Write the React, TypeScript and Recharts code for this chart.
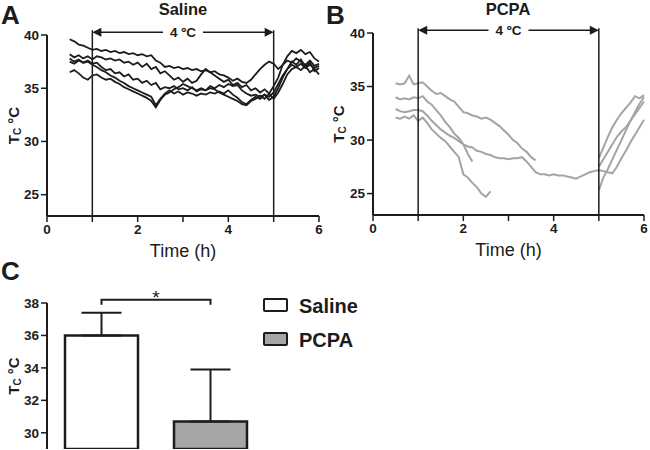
import React from 'react';
import { LineChart, Line, XAxis, YAxis, ReferenceLine, BarChart, Bar, ErrorBar, Cell } from 'recharts';

const FONT = '"Liberation Sans", Arial, Helvetica, sans-serif';
const INK = '#1c1c1c';
const GREY = '#a4a4a4';

// time axis (h), sampled every 0.1 h
const times = [
  0.5, 0.6, 0.7, 0.8, 0.9, 1.0, 1.1, 1.2, 1.3, 1.4,
  1.5, 1.6, 1.7, 1.8, 1.9, 2.0, 2.1, 2.2, 2.3, 2.4,
  2.5, 2.6, 2.7, 2.8, 2.9, 3.0, 3.1, 3.2, 3.3, 3.4,
  3.5, 3.6, 3.7, 3.8, 3.9, 4.0, 4.1, 4.2, 4.3, 4.4,
  4.5, 4.6, 4.7, 4.8, 4.9, 5.0, 5.1, 5.2, 5.3, 5.4,
  5.5, 5.6, 5.7, 5.8, 5.9, 6.0,
];

// Panel A - saline animals, core temperature
const saline1 = [
  39.6, 39.4, 39.1, 39.0, 38.8, 38.6, 38.7, 38.5, 38.6, 38.4,
  38.5, 38.3, 38.4, 38.2, 38.3, 38.1, 38.2, 38.0, 38.1, 37.6,
  37.4, 37.0, 37.1, 36.9, 37.0, 36.8, 36.9, 36.7, 36.8, 36.6,
  36.7, 36.5, 36.6, 36.3, 36.2, 36.0, 35.7, 35.9, 35.6, 35.5,
  35.8, 36.3, 36.8, 37.2, 37.5, 37.3, 36.8, 37.2, 37.6, 37.4,
  37.8, 37.5, 37.2, 37.6, 37.1, 37.3,
];
const saline2 = [
  38.2, 37.9, 38.1, 37.8, 38.0, 37.7, 38.0, 37.9, 37.7, 37.8,
  37.6, 37.7, 37.4, 37.5, 37.2, 37.4, 37.0, 37.3, 36.8, 37.0,
  36.4, 36.6, 36.2, 35.8, 36.0, 35.6, 35.9, 35.5, 35.7, 36.3,
  36.8, 36.5, 36.2, 35.9, 35.6, 35.8, 35.3, 35.5, 35.1, 35.3,
  34.8, 35.0, 34.6, 34.9, 34.5, 35.2, 36.0, 37.2, 38.0, 38.5,
  38.3, 38.6, 38.2, 38.4, 37.8, 37.5,
];
const saline3 = [
  37.8, 37.5, 37.7, 37.4, 37.6, 37.3, 37.4, 37.0, 36.7, 36.8,
  36.4, 36.5, 36.1, 36.3, 35.8, 35.9, 35.5, 35.7, 35.3, 35.5,
  34.9, 35.1, 35.0, 35.2, 34.9, 35.0, 34.8, 35.1, 34.7, 34.9,
  34.8, 35.2, 35.0, 35.3, 35.1, 35.4, 35.2, 35.3, 34.8, 34.5,
  34.3, 34.4, 34.2, 34.4, 34.2, 34.6, 35.4, 36.2, 36.8, 37.2,
  37.0, 37.3, 36.9, 37.2, 36.9, 37.1,
];
const saline4 = [
  37.5, 37.3, 37.6, 37.4, 37.5, 37.2, 37.0, 36.7, 36.5, 36.2,
  36.0, 35.7, 35.5, 35.2, 35.0, 34.8, 34.6, 34.4, 34.2, 33.4,
  34.0, 34.5, 34.8, 34.5, 34.7, 34.4, 34.6, 34.5, 34.3, 34.5,
  34.4, 34.6, 34.5, 34.7, 34.5, 34.8, 34.4, 34.1, 33.7, 33.5,
  33.9, 34.2, 34.0, 34.4, 33.9, 34.2, 35.0, 36.0, 36.8, 37.5,
  37.2, 37.7, 37.0, 37.4, 36.6, 36.9,
];
const saline5 = [
  36.5, 36.7, 36.4, 36.0, 35.8, 36.2, 36.3, 36.0, 35.8, 35.9,
  35.6, 35.4, 35.1, 34.9, 34.7, 34.5, 34.3, 34.1, 33.8, 33.2,
  33.9, 34.4, 34.6, 34.9, 35.1, 35.4, 35.2, 35.0, 34.8, 35.0,
  34.8, 35.0, 34.9, 34.6, 34.4, 34.2, 34.0, 33.8, 33.5, 33.4,
  33.8, 34.0, 34.3, 34.0, 34.5, 34.0, 34.6, 35.4, 36.3, 36.8,
  37.0, 36.7, 37.1, 36.5, 36.8, 36.3,
];

// Panel B - PCPA animals (null = no recording)
const pcpa1 = [
  35.3, 35.2, 35.3, 36.0, 35.2, 35.3, 35.4, 35.0, 34.6, 34.3,
  34.4, 34.1, 33.8, 33.6, 33.1, 32.6, 32.5, 32.3, 32.2, 32.0,
  32.1, 31.9, 31.6, 31.3, 30.9, 30.5, 30.0, 29.7, 29.2, 28.9,
  28.4, 28.1, null, null, null, null, null, null, null, null,
  null, null, null, null, null, 28.3, 29.3, 30.3, 31.2, 31.9,
  32.5, 33.0, 33.5, 34.1, 33.9, 34.2,
];
const pcpa2 = [
  34.0, 33.8, 33.9, 33.8, 34.0, 33.9, 34.1, 33.6, 33.3, 32.8,
  32.3, 31.7, 31.2, 30.6, 30.2, 29.6, 28.7, 28.0, null, null,
  null, null, null, null, null, null, null, null, null, null,
  null, null, null, null, null, null, null, null, null, null,
  null, null, null, null, null, 27.5, 28.2, 28.9, 29.6, 30.3,
  30.8, 31.2, 31.8, 32.4, 33.0, 33.6,
];
const pcpa3 = [
  32.9, 32.7, 32.6, 32.7, 32.8, 32.8, 32.7, 32.3, 31.8, 31.4,
  31.0, 30.7, 30.4, 30.2, 29.9, 29.6, 29.4, 29.3, 29.0, 28.9,
  28.7, 28.6, 28.4, 28.3, 28.3, 28.2, 28.3, 28.3, 28.4, 28.0,
  27.5, 27.0, 26.8, 26.8, 26.7, 26.8, 26.7, 26.7, 26.6, 26.5,
  26.4, 26.6, 26.8, 27.0, 27.1, 27.2, 27.1, 27.0, 26.9, 27.5,
  28.3, 29.0, 29.8, 30.5, 31.2, 31.9,
];
const pcpa4 = [
  32.1, 32.0, 32.2, 32.0, 32.3, 31.8, 32.1, 31.6, 31.0, 30.6,
  30.2, 29.9, 29.4, 28.9, 28.4, 26.8, 26.5, 26.0, 25.6, 25.0,
  24.7, 25.2, null, null, null, null, null, null, null, null,
  null, null, null, null, null, null, null, null, null, null,
  null, null, null, null, null, 25.3, 26.5, 27.3, 28.2, 29.1,
  30.0, 30.9, 31.8, 32.6, 33.4, 34.0,
];

const coldStart = 1;
const coldEnd = 5;
const xTicks = [0, 1, 2, 3, 4, 5, 6];
const yTicks = [25, 30, 35, 40];

// Panel C
const groups = ['Saline', 'PCPA'];
const means = [36.0, 30.7];
const semUp = [1.4, 3.2];
const barFills = ['#ffffff', '#a6a6a6'];
const barTicks = [30, 32, 34, 36, 38];

const salineRows = times.map((t, i) => ({ t, s1: saline1[i], s2: saline2[i], s3: saline3[i], s4: saline4[i], s5: saline5[i] }));
const pcpaRows = times.map((t, i) => ({ t, p1: pcpa1[i], p2: pcpa2[i], p3: pcpa3[i], p4: pcpa4[i] }));
const barRows = groups.map((g, i) => ({ name: g, mean: means[i], err: [0, semUp[i]] }));

const tickStyle = { fontSize: 13.5, fontWeight: 700, fill: INK, fontFamily: FONT };

const TcLabel = (props: any) => {
  const { viewBox } = props;
  const cx = viewBox.x + 13;
  const cy = viewBox.y + viewBox.height / 2;
  return (
    <text x={cx} y={cy} transform={`rotate(-90 ${cx} ${cy})`} textAnchor="middle" dominantBaseline="central"
      fontFamily={FONT} fontWeight={700} fontSize={15} fill={INK}>
      T<tspan fontSize={10} dy={4}>C</tspan><tspan dy={-4}> °C</tspan>
    </text>
  );
};

const TimeLabel = (props: any) => {
  const { viewBox } = props;
  return (
    <text x={viewBox.x + viewBox.width / 2} y={viewBox.y + 41} textAnchor="middle" fontFamily={FONT} fontSize={18} fill={INK}>
      Time (h)
    </text>
  );
};

const ColdArrow = (props: any) => {
  const { x1, y1, x2 } = props;
  const mid = (x1 + x2) / 2;
  const gap = 20;
  return (
    <g>
      <line x1={x1 + 6} y1={y1} x2={mid - gap} y2={y1} stroke={INK} strokeWidth={1.5} />
      <line x1={mid + gap} y1={y1} x2={x2 - 6} y2={y1} stroke={INK} strokeWidth={1.5} />
      <polygon points={`${x1},${y1} ${x1 + 9},${y1 - 4.5} ${x1 + 9},${y1 + 4.5}`} fill={INK} />
      <polygon points={`${x2},${y1} ${x2 - 9},${y1 - 4.5} ${x2 - 9},${y1 + 4.5}`} fill={INK} />
      <text x={mid} y={y1} dy="0.36em" textAnchor="middle" fontFamily={FONT} fontWeight={700} fontSize={13.5} fill={INK}>4 ºC</text>
    </g>
  );
};

const Bracket = (props: any) => {
  const { x1, y1, x2 } = props;
  return (
    <g>
      <path d={`M${x1},${y1 + 5} L${x1},${y1} L${x2},${y1} L${x2},${y1 + 5}`} fill="none" stroke={INK} strokeWidth={2} />
      <text x={(x1 + x2) / 2} y={y1 + 4} textAnchor="middle" fontFamily={FONT} fontSize={19} fill={INK}>*</text>
    </g>
  );
};

const Panel = ({ rows, keys, color, width, height, margin, yWidth }: any) => (
  <LineChart width={width} height={height} data={rows} margin={margin}>
    <XAxis dataKey="t" type="number" domain={[0, 6]} ticks={xTicks} tickFormatter={(v: number) => (v % 2 === 0 ? String(v) : '')}
      tick={tickStyle} tickSize={6} tickMargin={2} height={20}
      axisLine={{ stroke: INK, strokeWidth: 2 }} tickLine={{ stroke: INK, strokeWidth: 1.5 }} label={<TimeLabel />} />
    <YAxis type="number" domain={[23, 40]} ticks={yTicks} allowDataOverflow tick={tickStyle} tickSize={6} tickMargin={2}
      width={yWidth} axisLine={{ stroke: INK, strokeWidth: 2 }} tickLine={{ stroke: INK, strokeWidth: 1.5 }} label={<TcLabel />} />
    {keys.map((k: string) => (
      <Line key={k} dataKey={k} type="linear" stroke={color} strokeWidth={color === INK ? 1.8 : 2} dot={false}
        isAnimationActive={false} connectNulls={false} />
    ))}
    <ReferenceLine segment={[{ x: coldStart, y: 23 }, { x: coldStart, y: 40.45 }]} stroke={INK} strokeWidth={1.5} ifOverflow="visible" />
    <ReferenceLine segment={[{ x: coldEnd, y: 23 }, { x: coldEnd, y: 40.45 }]} stroke={INK} strokeWidth={1.5} ifOverflow="visible" />
    <ReferenceLine segment={[{ x: coldStart, y: 40.25 }, { x: coldEnd, y: 40.25 }]} ifOverflow="visible" shape={ColdArrow} />
  </LineChart>
);

const textBase: React.CSSProperties = { position: 'absolute', fontFamily: FONT, fontWeight: 700, color: INK, lineHeight: 1.1, whiteSpace: 'nowrap' };

const LegendItem = ({ label, fill, top }: any) => (
  <>
    <div style={{ position: 'absolute', left: 263, top: top + 3, width: 21, height: 10, border: `2.5px solid ${INK}`, borderRadius: 2, background: fill }} />
    <div style={{ ...textBase, left: 299, top, fontSize: 20 }}>{label}</div>
  </>
);

export default function App() {
  return (
    <div style={{ position: 'absolute', left: 0, top: 0, width: 650, height: 450, background: '#fff', overflow: 'hidden' }}>
      <div style={{ position: 'absolute', left: 0, top: 0 }}>
        <Panel rows={salineRows} keys={['s1', 's2', 's3', 's4', 's5']} color={INK} width={330} height={265}
          margin={{ top: 35, right: 11, bottom: 29, left: 0 }} yWidth={47} />
      </div>
      <div style={{ position: 'absolute', left: 325, top: 0 }}>
        <Panel rows={pcpaRows} keys={['p1', 'p2', 'p3', 'p4']} color={GREY} width={325} height={265}
          margin={{ top: 33, right: 6, bottom: 30, left: 0 }} yWidth={48} />
      </div>
      <div style={{ position: 'absolute', left: 0, top: 250 }}>
        <BarChart width={400} height={200} data={barRows} margin={{ top: 53, right: 135, bottom: 1, left: 0 }} barSize={73}>
          <XAxis dataKey="name" tick={false} tickLine={false} height={0} axisLine={{ stroke: INK, strokeWidth: 2 }} />
          <YAxis type="number" domain={[29, 38]} ticks={barTicks} allowDataOverflow tick={tickStyle} tickSize={6} tickMargin={2}
            width={47} axisLine={{ stroke: INK, strokeWidth: 2 }} tickLine={{ stroke: INK, strokeWidth: 1.5 }} label={<TcLabel />} />
          <Bar dataKey="mean" stroke={INK} strokeWidth={2.5} isAnimationActive={false}>
            {barRows.map((r, i) => <Cell key={r.name} fill={barFills[i]} />)}
            <ErrorBar dataKey="err" width={20} stroke={INK} strokeWidth={2} direction="y" />
          </Bar>
          <ReferenceLine segment={[{ x: 'Saline', y: 38.2 }, { x: 'PCPA', y: 38.2 }]} ifOverflow="visible" shape={Bracket} />
        </BarChart>
      </div>
      <LegendItem label="Saline" fill="#ffffff" top={295} />
      <LegendItem label="PCPA" fill="#a6a6a6" top={329} />
      <div style={{ ...textBase, left: 1, top: 1, fontSize: 26 }}>A</div>
      <div style={{ ...textBase, left: 326, top: 1, fontSize: 26 }}>B</div>
      <div style={{ ...textBase, left: 1, top: 257, fontSize: 26 }}>C</div>
      <div style={{ ...textBase, left: 83, top: 0, width: 200, textAlign: 'center', fontSize: 16.5 }}>Saline</div>
      <div style={{ ...textBase, left: 408, top: 0, width: 200, textAlign: 'center', fontSize: 16.5 }}>PCPA</div>
    </div>
  );
}
